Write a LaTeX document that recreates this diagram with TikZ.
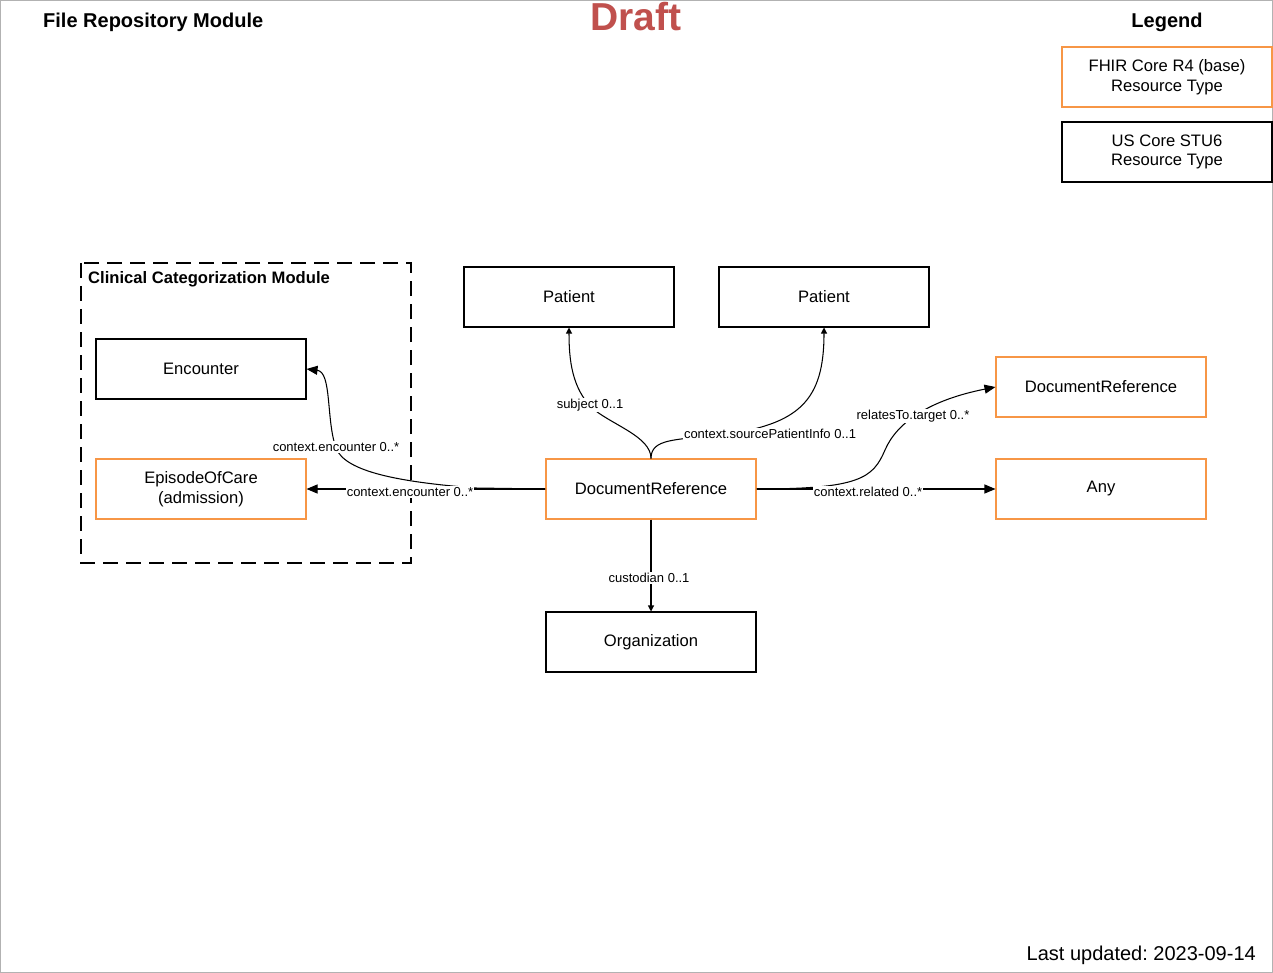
\documentclass[tikz,border=0pt]{standalone}
\usepackage{fontspec}
\setmainfont{Liberation Sans}
\usetikzlibrary{arrows.meta}
\definecolor{fhirorange}{HTML}{F79646}
\definecolor{draftred}{HTML}{C0504D}
\frenchspacing
\tikzset{
  res/.style={draw, line width=1.05pt, minimum width=210pt, minimum height=60pt,
    inner sep=0pt, align=center, font=\fontsize{16.6}{19.5}\selectfont},
  core/.style={res, draw=fhirorange},
  uscore/.style={res, draw=black},
  link/.style={line width=1.05pt},
  bigtip/.style={-{Triangle[length=11pt,width=9pt]}},
  smalltip/.style={-{Triangle[length=6pt,width=6pt]}},
  lbl/.style={fill=white, inner sep=1pt, font=\fontsize{13}{15}\selectfont},
  heading/.style={inner sep=0pt, font=\fontsize{20}{24}\selectfont\bfseries}
}
\begin{document}
\begin{tikzpicture}[x=1pt,y=-1pt]
\useasboundingbox (0,0) rectangle (1273,973);
\draw[gray!60, line width=1pt] (0.5,0.5) rectangle (1272.5,972.5);

% headings
\node[heading, anchor=west] (title) at (43,22.5) {File Repository Module};
\node[inner sep=0pt, font=\fontsize{39}{44}\selectfont\bfseries, text=draftred] (draft) at (636,16.5) {Draft};
\node[heading] (legend) at (1167,22.5) {Legend};
\node[inner sep=0pt, font=\fontsize{20}{24}\selectfont, anchor=east] (updated) at (1256,955.5) {Last updated: 2023-09-14};

% legend
\node[core] (lgcore) at (1167,77) {FHIR Core R4 (base)\\Resource Type};
\node[uscore] (lgus) at (1167,152) {US Core STU6\\Resource Type};

% clinical categorization module group
\draw[line width=1.05pt, dash pattern=on 15pt off 8pt] (81,263) rectangle (411,563);
\node[anchor=west, inner sep=0pt, font=\fontsize{16.6}{19.5}\selectfont\bfseries] (grp) at (88,279.5) {Clinical Categorization Module};

% resources
\node[uscore] (enc) at (201,369) {Encounter};
\node[core] (eoc) at (201,489) {EpisodeOfCare\\(admission)};
\node[uscore] (pat1) at (569,297) {Patient};
\node[uscore] (pat2) at (824,297) {Patient};
\node[core] (docref) at (651,489) {DocumentReference};
\node[core] (docref2) at (1101,387) {DocumentReference};
\node[core] (any) at (1101,489) {Any};
\node[uscore] (org) at (651,642) {Organization};

% connectors
\draw[link, smalltip] (docref.north) .. controls +(0,-22) and (612,425) .. (592,408)
   .. controls (572,388) and (569,360) .. (pat1.south);
\draw[link, smalltip] (docref.north) .. controls +(0,-20) and (675,440) .. (720,435)
   .. controls (800,425) and (824,400) .. (pat2.south);
\draw[link, smalltip] (docref.south) -- (org.north);
\draw[link, bigtip] (docref.west) -- (eoc.east);
\draw[link, bigtip] (docref.west) -- (475,488) .. controls (400,482) and (345,472) .. (336,448)
   .. controls (326,420) and (332,372) .. (enc.east);
\draw[link, bigtip] (docref.east) .. controls (860,489) and (873,478) .. (885,450)
   .. controls (897,422) and (930,400) .. (docref2.west);
\draw[link, bigtip] (docref.east) -- (any.west);

% connector labels
\node[lbl] (lsubj) at (590,405) {subject 0..1};
\node[lbl] (lsrc) at (770,434) {context.sourcePatientInfo 0..1};
\node[lbl] (lcust) at (649,578) {custodian 0..1};
\node[lbl] (lenc1) at (336,447) {context.encounter 0..*};
\node[lbl] (lenc2) at (410,492) {context.encounter 0..*};
\node[lbl] (lrel) at (913,416) {relatesTo.target 0..*};
\node[lbl] (lctx) at (868,492) {context.related 0..*};
\end{tikzpicture}
\end{document}
